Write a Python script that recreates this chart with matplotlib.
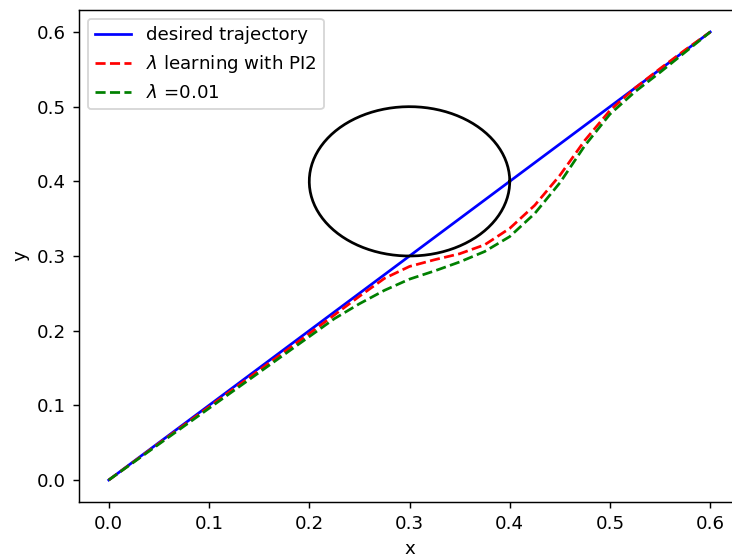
import numpy as np
import matplotlib
matplotlib.use("Agg")
import matplotlib.pyplot as plt

desired_x = [0.0, 0.6]
desired_y = [0.0, 0.6]

curve_x = [0.0, 0.05, 0.1, 0.15, 0.2, 0.225, 0.25, 0.275, 0.3, 0.325, 0.35, 0.375,
           0.4, 0.425, 0.45, 0.475, 0.5, 0.525, 0.55, 0.575, 0.6]
pi2_y = [0.0, 0.049, 0.098, 0.147, 0.196, 0.221, 0.246, 0.270, 0.286, 0.295, 0.303, 0.315,
         0.337, 0.368, 0.408, 0.455, 0.495, 0.525, 0.551, 0.576, 0.6]
fixed_y = [0.0, 0.048, 0.096, 0.144, 0.192, 0.216, 0.236, 0.254, 0.269, 0.280, 0.292, 0.306,
           0.326, 0.357, 0.398, 0.448, 0.490, 0.520, 0.546, 0.573, 0.6]

obstacle_center = (0.3, 0.4)
obstacle_radius = 0.1

W, H, DPI = 732, 559, 131
fig = plt.figure(figsize=(W / DPI, H / DPI), dpi=DPI)
ax = fig.add_axes([78.7 / W, (H - 502.4) / H, 661.6 / W, 492.8 / H])
ax.spines['right'].set_visible(False)

ax.plot(desired_x, desired_y, color='blue', label='desired trajectory')
ax.plot(curve_x, pi2_y, 'r--', label=r'$\lambda$ learning with PI2')
ax.plot(curve_x, fixed_y, 'g--', label=r'$\lambda$ =0.01')

t = np.linspace(0, 2 * np.pi, 200)
ax.plot(obstacle_center[0] + obstacle_radius * np.cos(t),
        obstacle_center[1] + obstacle_radius * np.sin(t), color='black')

ax.set_xlim(-0.03, 0.63)
ax.set_ylim(-0.03, 0.63)
ax.set_xticks([0.0, 0.1, 0.2, 0.3, 0.4, 0.5, 0.6])
ax.set_yticks([0.0, 0.1, 0.2, 0.3, 0.4, 0.5, 0.6])
ax.set_xlabel('x')
ax.set_ylabel('y')
ax.legend(loc='upper left')

fig.savefig('out.png', dpi=DPI)
